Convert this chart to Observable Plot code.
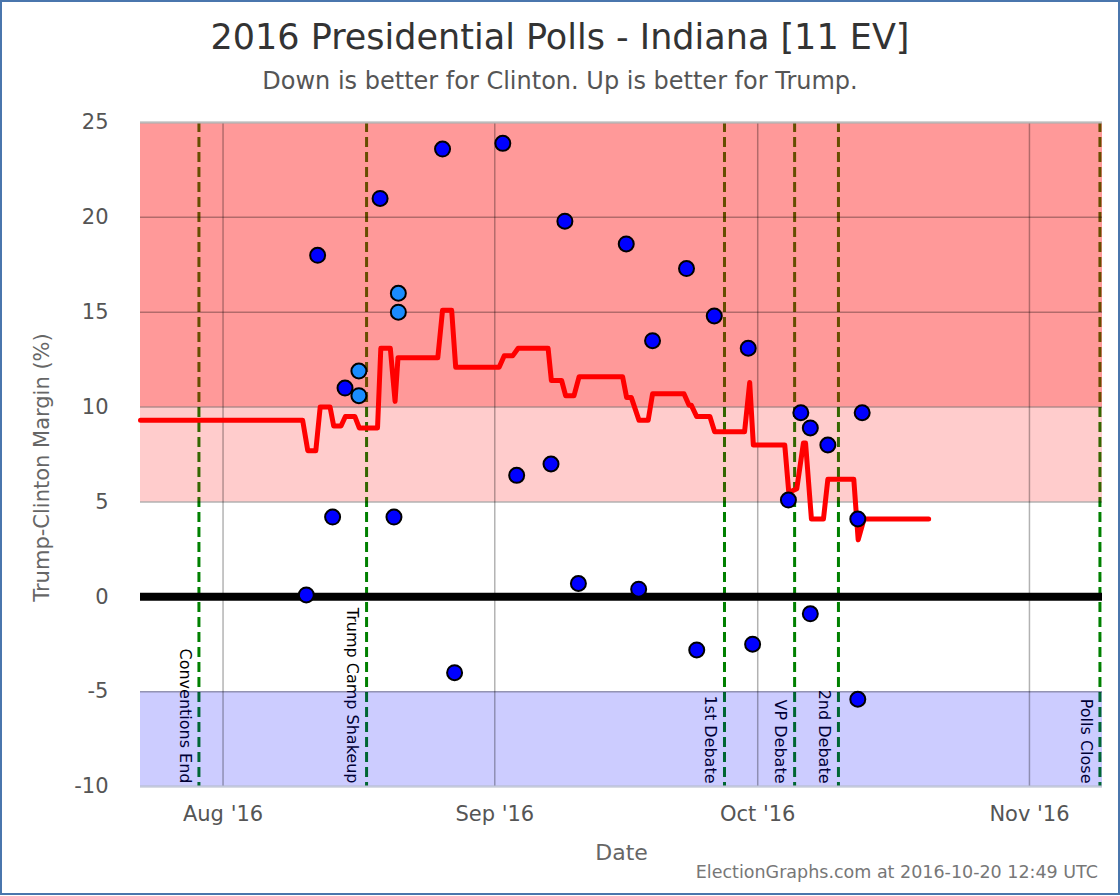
<!DOCTYPE html>
<html>
<head>
<meta charset="utf-8">
<script src="https://cdn.jsdelivr.net/npm/d3@7"></script>
<script src="https://cdn.jsdelivr.net/npm/@observablehq/plot@0.6"></script>
<style>
  body { margin: 0; background: #fff; }
  #wrap { position: relative; width: 1120px; height: 896px; overflow: hidden; background: #fff;
          font-family: "DejaVu Sans", sans-serif; }
  #border { position: absolute; left: 0; top: 0; width: 1120px; height: 895px; box-sizing: border-box;
            border: 2px solid #4a76ad; pointer-events: none; }
  #title { position: absolute; left: 0; top: 16px; width: 1120px; text-align: center; font-size: 35px; color: #333; line-height: 1.2; }
  #subtitle { position: absolute; left: 0; top: 67px; width: 1120px; text-align: center; font-size: 24px; color: #555; line-height: 1.2; }
  #footer { position: absolute; right: 22px; top: 862px; font-size: 17.5px; color: #777; line-height: 1.2; }
  #chart { position: absolute; left: 0; top: 100px; }
</style>
</head>
<body>
<div id="wrap">
  <div id="title">2016 Presidential Polls - Indiana [11 EV]</div>
  <div id="subtitle">Down is better for Clinton. Up is better for Trump.</div>
  <div id="chart"></div>
  <div id="footer">ElectionGraphs.com at 2016-10-20 12:49 UTC</div>
  <div id="border"></div>
</div>
<script>
// ---------- data ----------
const pollDates = [
  "2016-08-10 12:00", "2016-08-11 19:00", "2016-08-13 12:00", "2016-08-14 22:00",
  "2016-08-16 12:00", "2016-08-16 12:00", "2016-08-18 22:00", "2016-08-20 12:00",
  "2016-08-21 00:00", "2016-08-21 00:00", "2016-08-26 01:00", "2016-08-27 10:00",
  "2016-09-01 22:00", "2016-09-03 12:00", "2016-09-07 10:00", "2016-09-09 00:00",
  "2016-09-10 13:00", "2016-09-16 00:00", "2016-09-17 10:00", "2016-09-19 00:00",
  "2016-09-22 21:00", "2016-09-24 01:00", "2016-09-26 01:00", "2016-09-29 22:00",
  "2016-09-30 10:00", "2016-10-04 12:00", "2016-10-05 22:00", "2016-10-07 00:00",
  "2016-10-07 00:00", "2016-10-09 00:00", "2016-10-12 10:00", "2016-10-12 22:00",
  "2016-10-12 10:00"
];
const pollMargins = [
  0.1, 18.0, 4.2, 11.0,
  11.9, 10.6, 21.0, 4.2,
  16.0, 15.0, 23.6, -4.0,
  23.9, 6.4, 7.0, 19.8,
  0.7, 18.6, 0.4, 13.5,
  17.3, -2.8, 14.8, 13.1,
  -2.5, 5.1, 9.7, 8.9,
  -0.9, 8.0, 4.1, 9.7,
  -5.4
];
const pollKind = [
  "single", "single", "single", "single",
  "multi", "multi", "single", "single",
  "multi", "multi", "single", "single",
  "single", "single", "single", "single",
  "single", "single", "single", "single",
  "single", "single", "single", "single",
  "single", "single", "single", "single",
  "single", "single", "single", "single",
  "single"
];

const avgDates = [
  "2016-07-22 14:00", "2016-08-10 02:00", "2016-08-10 16:00", "2016-08-11 14:00",
  "2016-08-12 02:00", "2016-08-13 05:00", "2016-08-13 15:00", "2016-08-14 11:00",
  "2016-08-14 23:00", "2016-08-16 01:00", "2016-08-16 13:00", "2016-08-18 15:00",
  "2016-08-19 00:00", "2016-08-20 02:00", "2016-08-20 15:00", "2016-08-20 23:00",
  "2016-08-25 12:00", "2016-08-26 01:00", "2016-08-27 02:00", "2016-08-27 13:00",
  "2016-09-01 12:00", "2016-09-02 02:00", "2016-09-03 01:00", "2016-09-03 16:00",
  "2016-09-07 02:00", "2016-09-07 11:00", "2016-09-08 15:00", "2016-09-09 02:00",
  "2016-09-10 01:00", "2016-09-10 15:00", "2016-09-15 14:00", "2016-09-16 01:00",
  "2016-09-16 14:00", "2016-09-17 11:00", "2016-09-18 12:00", "2016-09-19 00:00",
  "2016-09-22 14:00", "2016-09-23 04:00", "2016-09-23 10:00", "2016-09-24 01:00",
  "2016-09-25 13:00", "2016-09-26 02:00", "2016-09-29 12:00", "2016-09-30 02:00",
  "2016-09-30 12:00", "2016-10-04 02:00", "2016-10-04 13:00", "2016-10-05 11:00",
  "2016-10-06 05:00", "2016-10-06 11:00", "2016-10-07 03:00", "2016-10-08 12:00",
  "2016-10-09 00:00", "2016-10-11 23:00", "2016-10-12 11:00", "2016-10-13 03:00",
  "2016-10-20 12:00"
];
const avgMargins = [
  9.3, 9.3, 7.7, 7.7,
  10.0, 10.0, 9.0, 9.0,
  9.5, 9.5, 8.9, 8.9,
  13.1, 13.1, 10.3, 12.6,
  12.6, 15.1, 15.1, 12.1,
  12.1, 12.7, 12.7, 13.1,
  13.1, 11.4, 11.4, 10.6,
  10.6, 11.6, 11.6, 10.5,
  10.5, 9.3, 9.3, 10.7,
  10.7, 10.1, 10.1, 9.5,
  9.5, 8.7, 8.7, 11.3,
  8.0, 8.0, 5.5, 5.7,
  8.1, 8.1, 4.1, 4.1,
  6.2, 6.2, 3.0, 4.1,
  4.1
];

const eventNames = ["Conventions End", "Trump Camp Shakeup", "1st Debate", "VP Debate", "2nd Debate", "Polls Close"];
const eventDates = ["2016-07-29 06:00", "2016-08-17 09:00", "2016-09-27 05:00", "2016-10-05 05:00", "2016-10-10 05:00", "2016-11-09 01:00"];

const bandNames = ["Strong Trump", "Weak Trump", "Strong Clinton"];
const bandLow = [10, 5, -10];
const bandHigh = [25, 10, -5];

const yTicks = [-10, -5, 0, 5, 10, 15, 20, 25];
const xTicks = ["2016-08-01 00:00", "2016-09-01 00:00", "2016-10-01 00:00", "2016-11-01 00:00"];
const xDomain = ["2016-07-22 14:00", "2016-11-09 08:00"];

// ---------- build ----------
const parse = d3.utcParse("%Y-%m-%d %H:%M");
const polls = pollDates.map((d, i) => ({date: parse(d), margin: pollMargins[i], kind: pollKind[i]}));
const avg = avgDates.map((d, i) => ({date: parse(d), margin: avgMargins[i]}));
const events = eventNames.map((n, i) => ({name: n, date: parse(eventDates[i])}));
const bands = bandNames.map((n, i) => ({name: n, lo: bandLow[i], hi: bandHigh[i]}));
const font = '"DejaVu Sans", sans-serif';

const chart = Plot.plot({
  width: 1120,
  height: 790,
  marginLeft: 140,
  marginRight: 18,
  marginTop: 22,
  marginBottom: 104,
  style: {fontFamily: font, background: "transparent", overflow: "visible"},
  x: {type: "utc", domain: xDomain.map(parse)},
  y: {domain: [-10, 25]},
  marks: [
    Plot.ruleX(events, {x: "date", stroke: "#008000", strokeWidth: 3, strokeDasharray: "10,5"}),
    Plot.text(events, {x: "date", text: "name", frameAnchor: "bottom", rotate: 90, textAnchor: "end",
      lineAnchor: "middle", dx: -14, dy: -3, fontSize: 16, fill: "#000"}),
    Plot.rect(bands.filter(b => b.name === "Strong Trump"), {y1: "lo", y2: "hi", fill: "#ff0000", fillOpacity: 0.4}),
    Plot.rect(bands.filter(b => b.name === "Weak Trump"), {y1: "lo", y2: "hi", fill: "#ff0000", fillOpacity: 0.2}),
    Plot.rect(bands.filter(b => b.name === "Strong Clinton"), {y1: "lo", y2: "hi", fill: "#0000ff", fillOpacity: 0.2}),
    Plot.gridY(yTicks, {stroke: "#000", strokeOpacity: 0.3, strokeWidth: 1.5}),
    Plot.gridX(xTicks.map(parse), {stroke: "#000", strokeOpacity: 0.3, strokeWidth: 1.5}),
    Plot.ruleY([25], {stroke: "#bbb", strokeWidth: 2}),
    Plot.ruleY([-10], {stroke: "#c3c9dc", strokeWidth: 2}),
    Plot.ruleY([0], {stroke: "#000", strokeWidth: 8}),
    Plot.line(avg, {x: "date", y: "margin", stroke: "#ff0000", strokeWidth: 5, strokeLinejoin: "round", strokeLinecap: "round"}),
    Plot.dot(polls.filter(p => p.kind === "single"), {x: "date", y: "margin", r: 7.5, fill: "#0000ff", stroke: "#000", strokeWidth: 2}),
    Plot.dot(polls.filter(p => p.kind === "multi"), {x: "date", y: "margin", r: 7.5, fill: "#1a8cff", stroke: "#000", strokeWidth: 2}),
    Plot.axisY(yTicks, {tickSize: 0, tickPadding: 32, tickFormat: d => String(d), fontSize: 21, fill: "#555", label: null}),
    Plot.axisX(xTicks.map(parse), {tickSize: 0, tickPadding: 20, tickFormat: d3.utcFormat("%b '%y"), fontSize: 21, fill: "#555", label: null}),
    Plot.text(["Date"], {text: d => d, frameAnchor: "bottom", dy: 66, lineAnchor: "middle", fontSize: 22, fill: "#666"}),
    Plot.text(["Trump-Clinton Margin (%)"], {text: d => d, frameAnchor: "left", rotate: -90, dx: -98, dy: 13,
      textAnchor: "middle", lineAnchor: "middle", fontSize: 21, fill: "#666"})
  ]
});
document.getElementById("chart").appendChild(chart);
</script>
</body>
</html>
